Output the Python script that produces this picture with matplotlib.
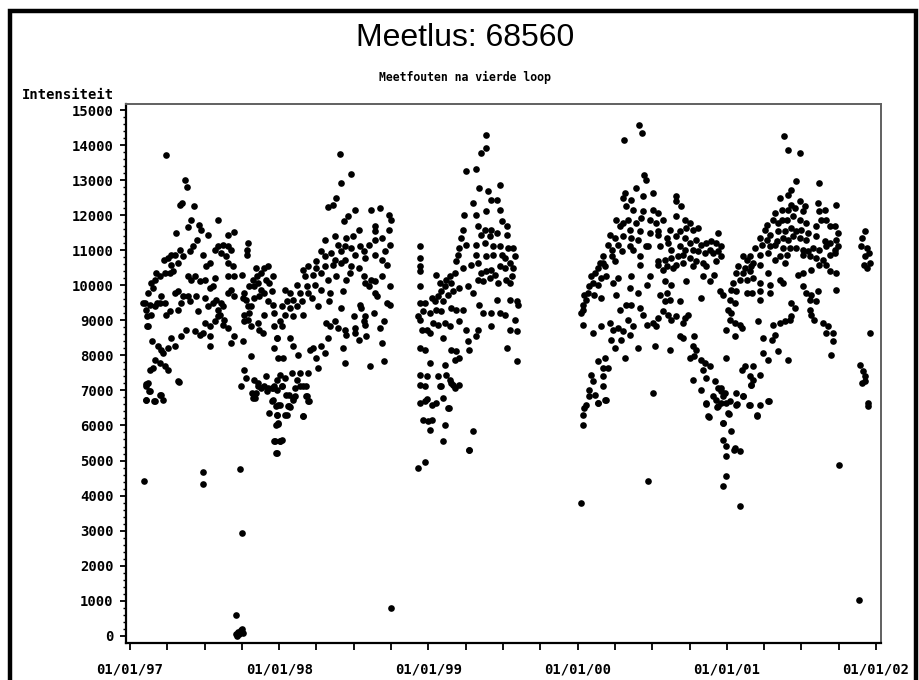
import matplotlib
matplotlib.use("Agg")
import matplotlib.pyplot as plt
from matplotlib.ticker import FixedLocator
from matplotlib.patches import Rectangle

# x = months since 01/01/97, y = intensity
pts_1997 = [
    (2.9, 13730), (4.45, 13015), (4.55, 12805), (4.05, 12300), (4.2, 12350), (5.15, 12270),
    (4.9, 11870), (7.1, 11870), (3.7, 11490), (4.65, 11665), (5.55, 11730), (5.7, 11590),
    (6.3, 11445), (7.9, 11445), (8.4, 11510), (5.4, 11300), (5.1, 11110), (4.8, 10970),
    (4.0, 11020), (3.3, 10875), (3.6, 10875), (3.05, 10780), (2.75, 10730), (4.25, 10830),
    (3.85, 10640), (3.3, 10590), (5.9, 10875), (6.1, 10540), (6.45, 10640), (6.8, 11020),
    (7.1, 11110), (7.5, 11160), (7.9, 11110), (7.35, 10920), (7.75, 10830), (8.15, 11020),
    (7.9, 10640), (8.3, 10540), (9.5, 11210), (9.45, 11020), (9.45, 10875), (2.1, 10350),
    (2.4, 10260), (2.0, 10160), (2.8, 10350), (3.2, 10350), (3.45, 10400), (1.7, 10065),
    (1.85, 9925), (1.45, 9780), (1.2, 9500), (1.3, 9305), (1.6, 9450), (2.0, 9400),
    (1.7, 9160), (1.45, 8830), (2.5, 9685), (2.4, 9500), (2.8, 9500), (3.2, 9260),
    (2.9, 9160), (3.6, 9780), (3.85, 9830), (4.1, 9500), (3.85, 9305), (4.25, 9685),
    (4.65, 10260), (4.9, 10160), (5.2, 10260), (4.8, 9540), (4.65, 9685), (5.3, 9685),
    (5.5, 9260), (6.0, 9640), (6.4, 9925), (6.7, 9970), (6.3, 9400), (6.7, 9500),
    (6.95, 9590), (7.1, 9305), (7.35, 9500), (7.5, 9400), (7.2, 9160), (7.6, 9020),
    (7.9, 9780), (8.15, 9875), (8.4, 9685), (7.9, 10260), (8.4, 10260), (9.0, 10305),
    (6.0, 10160), (6.8, 10210), (5.6, 10115), (9.2, 9780), (9.35, 9590), (9.5, 9400),
    (9.1, 9640), (9.6, 9970), (9.9, 10160), (10.0, 9970), (10.2, 10260), (10.3, 10065),
    (10.55, 10350), (10.8, 10495), (11.1, 10540), (10.95, 10160), (11.2, 10065), (10.55, 9875),
    (10.8, 9780), (10.4, 9685), (10.0, 9640), (11.1, 9540), (11.5, 9450), (9.75, 9400),
    (9.6, 9210), (9.2, 9160), (9.5, 9020), (10.15, 10495), (11.4, 9830), (10.8, 9160),
    (11.6, 9210), (11.5, 10260), (1.07, 9495), (1.35, 9112), (1.35, 8827), (2.15, 9495),
    (4.5, 8735), (5.2, 8685), (5.6, 8590), (6.0, 8925), (6.4, 8830), (6.4, 8545),
    (6.8, 8970), (5.9, 8640), (4.1, 8545), (3.3, 8495), (3.6, 8260), (3.05, 8210),
    (2.5, 8165), (2.65, 8070), (1.8, 8400), (2.25, 8260), (6.4, 8280), (7.1, 9115),
    (7.5, 8880), (7.9, 8780), (8.4, 8545), (8.15, 8355), (9.1, 8400), (9.2, 8970),
    (9.75, 8830), (10.3, 8925), (10.4, 8735), (10.7, 8640), (11.6, 8830), (11.8, 8495),
    (11.6, 8210), (9.75, 7975), (2.0, 7880), (1.85, 7640), (2.4, 7785), (2.8, 7690),
    (3.05, 7595), (1.6, 7595), (3.85, 7260), (1.45, 7215), (1.3, 7120), (1.6, 6975),
    (1.3, 6735), (2.0, 6690), (2.5, 6880), (2.65, 6735), (1.3, 7190), (1.55, 6990),
    (1.3, 6715), (1.95, 6690), (2.4, 6880), (3.95, 7250),
    (9.2, 7595), (9.35, 7355), (8.95, 7120), (10.0, 7310), (10.3, 7120), (10.55, 7070),
    (10.8, 7120), (10.15, 6930), (9.9, 6785), (11.1, 7070), (11.4, 7070), (11.6, 7120),
    (10.95, 7405), (11.5, 6735), (11.75, 6545), (11.2, 6355), (11.75, 6025), (11.6, 5550),
    (11.75, 5215), (9.8, 6926), (10.05, 6790), (10.3, 7220), (11.0, 6975), (11.4, 6690),
    (11.5, 7070), (11.65, 5545), (11.9, 6040), (11.85, 6300),
]

pts_1998 = [
    (16.9, 13747), (17.8, 13186), (17.0, 12920), (16.6, 12482), (15.9, 12235), (16.35, 12290),
    (18.1, 12160), (19.4, 12160), (20.1, 12206), (20.8, 12016), (21.0, 11854), (17.55, 11987),
    (17.2, 11825), (18.4, 11588), (19.7, 11700), (19.7, 11540), (20.8, 11588), (15.7, 11302),
    (16.5, 11397), (17.4, 11350), (17.95, 11416), (16.75, 11160), (17.3, 11112), (15.4, 10970),
    (16.2, 10920), (17.0, 10970), (17.8, 11065), (18.5, 11112), (19.2, 11160), (19.7, 11302),
    (20.25, 11350), (20.9, 11160), (20.5, 10970), (18.8, 10970), (18.1, 10875), (15.7, 10827),
    (15.0, 10684), (16.5, 10730), (17.3, 10730), (18.9, 10780), (19.7, 10875), (20.25, 10730),
    (20.65, 10590), (14.35, 10540), (13.95, 10446), (15.0, 10494), (15.7, 10540), (16.35, 10590),
    (17.0, 10636), (17.8, 10540), (18.4, 10494), (14.1, 10256), (14.75, 10304), (15.4, 10350),
    (15.95, 10160), (16.6, 10256), (17.4, 10160), (17.7, 10350), (18.8, 10256), (19.4, 10160),
    (18.9, 10066), (19.2, 9970), (19.7, 10113), (20.25, 10256), (20.9, 9970), (13.4, 10018),
    (14.2, 9970), (14.9, 10018), (15.4, 9875), (13.7, 9780), (14.35, 9780), (12.9, 9780),
    (12.5, 9875), (13.1, 9590), (12.6, 9543), (13.8, 9543), (14.6, 9637), (12.2, 9400),
    (12.9, 9352), (13.4, 9400), (12.5, 9162), (13.1, 9114), (13.95, 9162), (12.05, 8980),
    (16.1, 9780), (16.0, 9543), (15.15, 9400), (17.15, 9828), (19.7, 9780), (19.85, 9685),
    (17.0, 9352), (18.5, 9447), (18.6, 9352), (20.65, 9495), (20.9, 9447), (19.6, 9210),
    (18.9, 9114), (18.0, 9114), (15.8, 8924), (16.5, 8972), (16.1, 8830), (16.75, 8780),
    (17.3, 8734), (17.4, 8590), (18.1, 8780), (18.9, 8876), (18.8, 8972), (18.1, 8638),
    (18.4, 8448), (19.0, 8543), (20.1, 8780), (20.4, 8972), (20.25, 8353), (15.95, 8496),
    (15.4, 8258), (14.75, 8210), (14.5, 8163), (17.15, 8210), (15.7, 8068), (15.0, 7925),
    (15.15, 7640), (17.3, 7783), (19.3, 7688), (20.4, 7830), (12.2, 8830), (11.8, 8496),
    (12.9, 8496), (13.1, 8258), (13.55, 8020), (11.9, 7925), (12.3, 7925), (12.05, 7450),
    (12.5, 7355), (11.8, 7307), (13.0, 7497), (13.7, 7497), (14.35, 7497), (13.4, 7307),
    (13.95, 7117), (12.2, 7117), (11.8, 7022), (12.75, 6879), (13.3, 6831), (14.2, 6831),
    (13.1, 6736), (14.35, 6688), (11.9, 6593), (12.75, 6546), (11.8, 6308), (12.6, 6308),
    (13.95, 6260), (11.9, 6070), (12.05, 5547), (11.8, 5214), (12.05, 5545), (12.2, 5595),
    (12.45, 6300), (12.05, 6590), (12.55, 6880), (12.85, 6535), (13.1, 6780), (13.25, 7070),
    (12.2, 7115), (13.65, 7115), (14.15, 7135), (14.15, 6850), (14.4, 6690), (13.95, 6260),
    (12.7, 6545),
]

pts_1999 = [
    (28.6, 14280), (28.65, 13918), (28.25, 13776), (27.05, 13252), (27.85, 13319), (28.1, 12777),
    (28.8, 12682), (29.75, 12872), (27.6, 12349), (29.05, 12444), (29.5, 12444), (26.9, 12016),
    (27.85, 12016), (28.65, 12111), (29.75, 12158), (29.9, 11825), (28.0, 11683), (28.55, 11588),
    (29.05, 11588), (28.25, 11445), (28.95, 11397), (29.5, 11493), (30.3, 11683), (30.3, 11445),
    (26.8, 11588), (26.65, 11350), (27.05, 11160), (26.5, 11065), (27.85, 11160), (28.55, 11207),
    (29.2, 11112), (29.75, 11112), (29.9, 10874), (30.4, 11065), (30.8, 11065), (30.95, 10827),
    (27.85, 10874), (28.65, 10827), (29.2, 10874), (30.14, 10780), (26.4, 10874), (26.25, 10684),
    (26.8, 10494), (27.45, 10589), (28.0, 10636), (28.25, 10351), (28.65, 10398), (29.05, 10446),
    (29.35, 10304), (29.75, 10541), (30.15, 10494), (30.55, 10636), (30.8, 10494), (30.7, 10256),
    (26.1, 10351), (25.7, 10256), (25.85, 10066), (25.45, 10161), (24.65, 10304), (24.9, 10066),
    (25.3, 9970), (25.05, 9828), (24.8, 9685), (25.6, 9733), (26.0, 9828), (26.5, 9923),
    (27.2, 9970), (27.6, 9780), (28.0, 10161), (28.4, 10113), (28.95, 10208), (29.6, 10066),
    (30.25, 10161), (30.55, 10066), (24.5, 9542), (25.2, 9542), (24.25, 9638), (23.7, 9495),
    (23.55, 9257), (24.1, 9210), (24.65, 9305), (25.05, 9257), (25.85, 9352), (26.25, 9305),
    (26.8, 9305), (28.1, 9447), (28.4, 9210), (29.05, 9210), (29.5, 9590), (29.75, 9210),
    (30.15, 9162), (30.55, 9590), (31.1, 9542), (31.2, 9447), (30.95, 9019), (23.15, 9114),
    (23.3, 9019), (23.45, 8734), (23.85, 8734), (24.4, 8924), (24.8, 8876), (25.3, 8924),
    (25.7, 8829), (26.5, 8972), (27.05, 8734), (28.0, 8734), (27.85, 8543), (29.05, 8829),
    (30.55, 8734), (31.1, 8686), (24.1, 8638), (25.2, 8496), (23.7, 8163), (25.85, 8163),
    (26.25, 8115), (27.3, 8163), (27.2, 8401), (30.3, 8211), (31.1, 7830), (26.5, 7925),
    (24.1, 7783), (25.3, 7735), (26.1, 7877), (23.85, 7402), (24.8, 7402), (25.45, 7450),
    (23.3, 7164), (23.7, 7117), (24.9, 7117), (26.0, 7164), (26.5, 7164), (25.7, 7307),
    (23.3, 6641), (23.7, 6688), (24.25, 6593), (24.65, 6641), (25.2, 6784), (25.6, 6498),
    (23.6, 6165), (24.0, 6118), (24.25, 6165), (24.1, 5880), (25.3, 6023), (27.6, 5832),
    (25.2, 5547), (27.3, 5309), (23.75, 4966), (23.2, 4775),
    (23.3, 11110), (23.3, 10780), (23.3, 10540), (23.3, 10397), (23.3, 9970), (23.3, 9495),
    (23.3, 8210), (23.3, 7450), (23.85, 6755), (25.65, 6500), (25.85, 7210), (26.1, 7070),
    (25.0, 7115),
]

pts_2000 = [
    (40.9, 14565), (41.2, 14346), (39.7, 14156), (41.3, 13157), (41.5, 13014), (40.7, 12776),
    (39.8, 12634), (39.65, 12491), (40.3, 12444), (41.25, 12539), (42.05, 12634), (39.9, 12253),
    (40.45, 12158), (41.25, 12111), (42.05, 12158), (42.45, 12063), (43.95, 12539), (43.95, 12396),
    (44.35, 12253), (39.1, 11873), (39.65, 11778), (40.05, 11873), (40.7, 11778), (41.1, 11920),
    (41.8, 11873), (42.3, 11778), (42.85, 11873), (43.95, 11968), (44.6, 11873), (45.0, 11778),
    (45.7, 11635), (39.4, 11683), (40.2, 11588), (41.0, 11540), (41.8, 11493), (42.45, 11540),
    (43.4, 11588), (44.2, 11540), (44.75, 11635), (45.3, 11588), (38.6, 11445), (39.0, 11350),
    (39.65, 11397), (40.3, 11350), (40.85, 11302), (42.45, 11445), (43.15, 11350), (43.95, 11397),
    (44.6, 11350), (45.0, 11207), (45.55, 11302), (45.95, 11160), (46.35, 11207), (46.75, 11255),
    (47.3, 11493), (47.15, 11207), (47.55, 11112), (38.45, 11160), (38.75, 11017), (39.25, 11160),
    (39.55, 10970), (40.2, 11112), (40.45, 11017), (41.65, 11112), (42.6, 11112), (43.3, 11207),
    (43.55, 11017), (44.2, 11112), (44.6, 11017), (45.3, 11017), (45.7, 10970), (46.25, 10922),
    (46.65, 11017), (46.9, 10922), (47.3, 10970), (47.55, 10827), (38.05, 10827), (38.75, 10827),
    (39.0, 10684), (38.05, 10636), (41.0, 10827), (41.5, 11112), (42.45, 10684), (43.0, 10732),
    (43.55, 10779), (44.1, 10827), (44.5, 10874), (45.0, 10779), (45.55, 10684), (46.1, 10636),
    (47.15, 10684), (41.0, 10589), (42.45, 10589), (42.85, 10446), (43.15, 10541), (43.7, 10494),
    (43.95, 10589), (44.5, 10636), (45.3, 10541), (46.35, 10541), (37.8, 10636), (37.65, 10494),
    (38.2, 10541), (37.4, 10351), (38.3, 10256), (37.9, 10208), (37.1, 10256), (38.85, 10066),
    (37.25, 10066), (36.95, 9970), (37.65, 10018), (36.85, 9780), (36.55, 9733), (37.35, 9733),
    (37.9, 9638), (36.7, 9590), (36.45, 9447), (36.45, 9305), (36.3, 9210), (39.25, 10208),
    (40.3, 10256), (41.55, 10018), (41.8, 10256), (43.0, 10113), (43.55, 10018), (43.15, 9780),
    (44.75, 10113), (46.1, 10256), (46.65, 10113), (47.0, 10303), (40.2, 9923), (40.85, 9780),
    (39.1, 9733), (42.6, 9733), (43.0, 9543), (43.4, 9590), (44.2, 9543), (45.95, 9638),
    (47.45, 9828), (47.7, 9733), (39.9, 9447), (40.3, 9447), (39.4, 9305), (41.0, 9352),
    (41.25, 9162), (42.45, 9067), (42.85, 9257), (43.3, 9162), (43.55, 9019), (43.95, 9114),
    (44.6, 9067), (44.9, 9162), (44.5, 8924), (41.55, 8876), (42.05, 8924), (42.3, 8829),
    (36.45, 8876), (37.25, 8638), (37.9, 8829), (38.6, 8924), (38.85, 8734), (39.25, 8781),
    (39.65, 8686), (40.05, 9019), (40.45, 8829), (38.7, 8449), (39.5, 8449), (40.2, 8591),
    (39.0, 8211), (40.85, 8211), (42.2, 8258), (43.4, 8163), (44.2, 8543), (44.5, 8496),
    (45.4, 8543), (45.3, 8258), (45.55, 8163), (39.8, 7925), (45.0, 7925), (45.4, 7973),
    (45.95, 7877), (46.25, 7782), (46.65, 7687), (46.1, 7592), (45.3, 7307), (46.35, 7354),
    (47.05, 7259), (47.3, 7069), (47.55, 6973), (46.9, 6831), (47.15, 6736), (47.7, 6831),
    (45.95, 7021), (46.35, 6641), (47.3, 6546), (47.95, 6641), (46.5, 6260), (47.7, 6070),
    (38.2, 7925), (37.65, 7830), (38.05, 7640), (38.45, 7640), (37.1, 7450), (38.05, 7402),
    (37.25, 7259), (38.05, 7117), (36.95, 7021), (37.4, 6878), (36.95, 6831), (37.65, 6641),
    (38.2, 6736), (36.7, 6594), (36.55, 6498), (36.45, 6308), (36.45, 6023), (42.05, 6926),
    (38.3, 6715), (37.6, 6640), (46.3, 6621), (46.55, 6230), (47.25, 6525),
]

pts_2001 = [
    (52.6, 14251), (52.9, 13852), (53.85, 13776), (53.6, 12967), (55.45, 12920), (53.2, 12729),
    (52.9, 12587), (52.25, 12491), (53.2, 12301), (53.85, 12396), (54.3, 12254), (55.35, 12349),
    (56.8, 12301), (52.4, 12158), (52.9, 12158), (53.45, 12206), (54.15, 12111), (55.45, 12111),
    (55.9, 12158), (51.85, 12063), (52.4, 11873), (52.1, 11778), (52.8, 11873), (53.35, 11968),
    (53.85, 11873), (54.4, 11778), (55.6, 11873), (56.0, 11873), (55.2, 11683), (56.3, 11683),
    (56.7, 11683), (51.2, 11730), (51.7, 11873), (51.05, 11588), (51.45, 11445), (52.1, 11540),
    (52.65, 11540), (53.2, 11635), (53.6, 11540), (54.0, 11588), (54.55, 11493), (55.2, 11397),
    (56.95, 11493), (50.65, 11350), (51.2, 11302), (52.0, 11255), (52.5, 11350), (52.9, 11302),
    (53.35, 11397), (53.85, 11350), (54.4, 11302), (55.9, 11255), (56.3, 11207), (56.8, 11302),
    (50.25, 11065), (50.8, 11160), (51.45, 11112), (51.85, 11160), (52.5, 11065), (53.05, 11065),
    (53.6, 11065), (54.15, 11017), (54.55, 10970), (54.95, 11065), (55.45, 11017), (56.0, 11112),
    (56.7, 11017), (56.95, 11112), (49.85, 10827), (49.3, 10827), (50.65, 10874), (51.3, 10922),
    (52.25, 10827), (52.8, 10874), (54.15, 10874), (54.65, 10827), (55.2, 10780), (55.75, 10732),
    (56.3, 10874), (56.7, 10922), (49.6, 10732), (50.1, 10636), (50.65, 10589), (48.9, 10541),
    (49.45, 10494), (49.95, 10541), (51.85, 10732), (52.65, 10636), (55.45, 10589), (56.0, 10589),
    (48.75, 10351), (49.3, 10351), (49.85, 10398), (51.3, 10351), (53.75, 10304), (54.15, 10351),
    (54.8, 10446), (56.3, 10398), (56.8, 10351), (49.05, 10161), (49.6, 10161), (50.1, 10208),
    (50.65, 10066), (52.25, 10161), (52.5, 10066), (48.5, 10066), (51.45, 10018), (54.15, 9970),
    (48.35, 9875), (48.75, 9828), (49.6, 9780), (50.0, 9780), (50.65, 9828), (51.45, 9780),
    (54.4, 9780), (54.8, 9733), (55.35, 9828), (56.8, 9875), (48.25, 9590), (48.65, 9495),
    (50.65, 9590), (54.65, 9590), (55.2, 9542), (53.2, 9495), (53.45, 9352), (48.1, 9305),
    (48.35, 9210), (48.25, 9019), (54.65, 9305), (54.8, 9162), (55.05, 9019), (55.75, 8924),
    (48.65, 8924), (49.05, 8876), (49.2, 8781), (50.5, 8972), (51.7, 8876), (52.25, 8924),
    (52.65, 8972), (53.05, 9019), (53.2, 9114), (56.15, 8829), (56.55, 8638), (47.95, 8734),
    (48.65, 8543), (56.0, 8638), (50.9, 8496), (51.6, 8449), (51.85, 8591), (56.55, 8401),
    (50.9, 8068), (51.3, 7877), (52.1, 8115), (52.9, 7877), (56.4, 8020), (47.95, 7925),
    (49.45, 7687), (50.1, 7687), (49.2, 7592), (49.85, 7402), (50.1, 7307), (50.65, 7450),
    (49.95, 7164), (47.55, 7069), (47.85, 6926), (48.75, 6926), (49.3, 6831), (48.25, 6688),
    (48.75, 6593), (49.85, 6593), (50.65, 6593), (51.3, 6688), (47.55, 6641), (48.1, 6355),
    (50.4, 6308), (47.7, 6070), (48.35, 5832), (47.7, 5594), (47.95, 5404), (48.65, 5357),
    (47.9, 5130), (48.55, 5300), (49.05, 5260), (47.9, 4566), (47.7, 4261), (48.15, 6325),
    (48.8, 6610), (49.3, 6830), (49.8, 6590), (50.45, 6280), (51.4, 6690), (49.95, 7165),
    (59.1, 11540), (58.9, 11350), (58.8, 11112), (59.25, 11065), (59.4, 10922), (59.1, 10827),
    (59.5, 10636), (59.25, 10494), (59.0, 10589), (59.5, 8638), (58.7, 7735), (58.95, 7545),
    (59.1, 7402), (58.85, 7212), (59.35, 6641), (59.35, 6545), (59.1, 7260),
]

outliers = [
    (1.1, 4424), (5.9, 4670), (5.85, 4330), (8.85, 4765), (9.0, 2940), (8.55, 590),
    (8.5, 50), (8.7, 100), (8.9, 150), (8.6, 0), (9.0, 200), (8.8, 60), (9.1, 80),
    (21.0, 800), (27.3, 5300), (36.3, 3776), (41.65, 4405), (49.05, 3710),
    (57.0, 4880), (58.6, 1027),
]

year_ticks = [0, 12, 24, 36, 48, 60]
year_labels = ["01/01/97", "01/01/98", "01/01/99", "01/01/00", "01/01/01", "01/01/02"]

W, H = 919, 680
fig = plt.figure(figsize=(W / 100, H / 100), dpi=100)
ax = fig.add_axes([126 / W, 1 - 643 / H, 755 / W, 539 / H])

for seg in [pts_1997, pts_1998, pts_1999, pts_2000, pts_2001, outliers]:
    xs = [p[0] for p in seg]
    ys = [p[1] for p in seg]
    ax.plot(xs, ys, "o", color="black", ms=4.8, mew=0)

ax.set_xlim(-0.32, 60.4)
ax.set_ylim(-208, 15175)

lab_font = dict(family="DejaVu Sans Mono", weight="bold", size=10)
ax.set_xticks(year_ticks)
ax.set_xticklabels(year_labels, **lab_font)
ax.xaxis.set_minor_locator(FixedLocator(list(range(0, 61, 3))))
yt = list(range(0, 15001, 1000))
ax.set_yticks(yt)
ax.set_yticklabels([str(v) for v in yt], **lab_font)
ax.yaxis.set_minor_locator(FixedLocator(list(range(0, 15001, 200))))

ax.tick_params(axis="x", which="both", length=5, width=1.3, direction="out", pad=9)
ax.tick_params(axis="y", which="major", length=4, width=1.3, direction="out", pad=5)
ax.tick_params(axis="y", which="minor", length=2.5, width=1.0, direction="out")

for side in ["left", "bottom"]:
    ax.spines[side].set_color("black")
    ax.spines[side].set_linewidth(1.6)
for side in ["top", "right"]:
    ax.spines[side].set_color("#606060")
    ax.spines[side].set_linewidth(1.4)

fig.text(465 / W, 1 - 38 / H, "Meetlus: 68560", ha="center", va="center",
         family="Liberation Sans", size=23)
fig.text(465 / W, 1 - 77 / H, "Meetfouten na vierde loop", ha="center", va="center",
         family="DejaVu Sans Mono", size=8.3, weight="bold")
fig.text(114 / W, 1 - 95 / H, "Intensiteit", ha="right", va="center",
         family="DejaVu Sans Mono", weight="bold", size=10)

# outer frame (bottom edge falls outside the picture)
fig.add_artist(Rectangle((10 / W, -0.05), (915.5 - 10) / W, 1.05 - 11 / H,
                         transform=fig.transFigure, fill=False, ec="black", lw=3.2))

fig.savefig("out.png", dpi=100)
